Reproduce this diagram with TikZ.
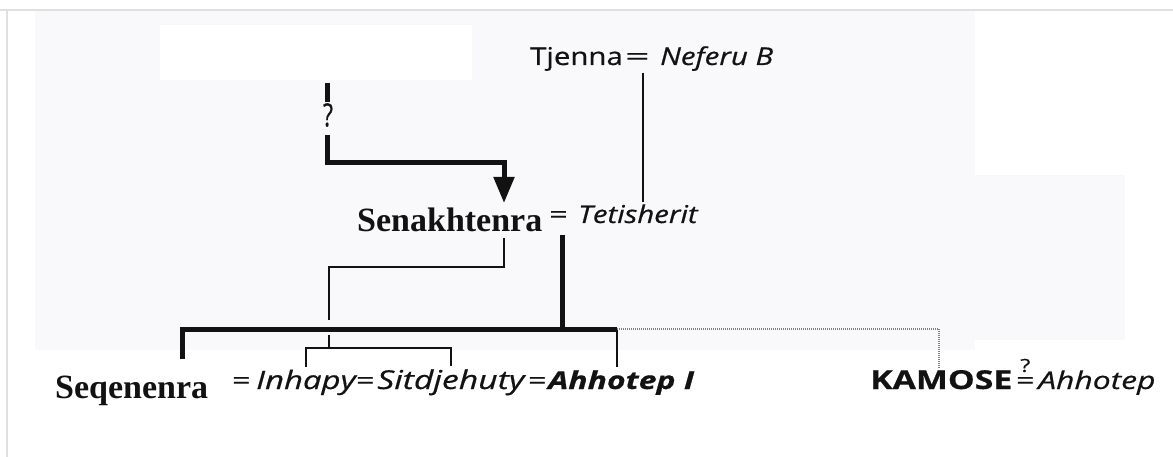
\documentclass[tikz,border=0pt]{standalone}
\usepackage{fontspec}
\setmainfont{Liberation Serif}
\newfontfamily\gsA[FakeStretch=1.2,FakeBold=0.6]{Open Sans}
\newfontfamily\gsB[FakeStretch=1.3,FakeBold=0.6]{Open Sans}
\newfontfamily\gsN[FakeBold=0.6]{Open Sans}
\usetikzlibrary{arrows.meta,calc}
\definecolor{bggray}{RGB}{249,249,251}
\definecolor{bordergray}{RGB}{224,224,226}
\definecolor{ink}{RGB}{18,18,18}
\begin{document}
\begin{tikzpicture}[x=1pt,y=-1pt,
  txt/.style={inner sep=0pt, anchor=base west, text=ink},
  serifname/.style={txt, font=\fontsize{34}{40}\selectfont\bfseries},
  topname/.style={txt, font=\gsA\fontsize{24.5}{30}\selectfont},
  topit/.style={txt, font=\gsA\fontsize{24.5}{30}\selectfont\itshape},
  botname/.style={txt, font=\gsB\fontsize{24.5}{30}\selectfont},
  botit/.style={txt, font=\gsB\fontsize{24.5}{30}\selectfont\itshape},
  botb/.style={txt, font=\gsB\fontsize{26}{30}\selectfont\bfseries},
  botbi/.style={txt, font=\gsB\fontsize{24.5}{30}\selectfont\bfseries\itshape},
  qmark/.style={inner sep=0pt, text=ink, font=\gsN\fontsize{32}{36}\selectfont},
  thickl/.style={draw=ink, line width=5pt},
  thinl/.style={draw=ink, line width=1.6pt},
  dotl/.style={draw=gray, line width=1.3pt, dash pattern=on 1pt off 1pt}]
\useasboundingbox (0,0) rectangle (1173,457);
% background
\fill[white] (0,0) rectangle (1173,457);
\fill[bggray] (35,11) rectangle (975,350);
\fill[bggray] (975,175) rectangle (1125,340);
\fill[white] (160,25) rectangle (472,80);
\draw[bordergray, line width=1.5pt] (0,10) -- (1173,10);
\draw[bordergray, line width=1.5pt] (7,10) -- (7,457);

% names
\node[topname] (tjenna) at (530,65) {Tjenna};
\node[topname] (eq0) at (625,65) {\scalebox{1.45}[1]{=}};
\node[topit] (neferu) at (660,65) {Neferu B};
\node[serifname] (sen) at (357,232) {Senakhtenra};
\node[topname] (eq1) at (549,223) {\scalebox{1.1}[1]{=}};
\node[topit] (teti) at (578,223) {Tetisherit};
\node[serifname] (seq) at (55,398) {Seqenenra};
\node[botname] (eq2) at (232,389) {=};
\node[botit, font=\gsB\fontsize{25.3}{30}\selectfont\itshape] (inhapy) at (256,389) {Inhapy};
\node[botname] (eq3) at (356,389) {=};
\node[botit, font=\gsB\fontsize{26}{30}\selectfont\itshape] (sitd) at (377,389) {Sitdjehuty};
\node[botname] (eq4) at (528,389) {=};
\node[botbi, font=\gsB\fontsize{24.6}{30}\selectfont\bfseries\itshape] (ahh1) at (548,389) {Ahhotep I};
\node[botb] (kamose) at (870,389) {KAMOSE};
\node[botname] (eq5) at (1016,389) {\ooalign{=\cr\hidewidth\raisebox{0.7em}{\fontsize{18}{20}\selectfont ?}\hidewidth\cr}};
\node[botit] (ahh2) at (1038,389) {Ahhotep};
\node[qmark] (q1) at (328,115) {\scalebox{0.72}[1]{?}};

% coordinates
\coordinate (t0) at (327,83);
\coordinate (t1) at (327,102);
\coordinate (t2) at (327,135);
\coordinate (elbow) at (504,163);
\coordinate (senin) at (504,203);
\coordinate (senout) at (504,238);
\coordinate (j1) at (329,267);
\coordinate (gap1) at (329,320);
\coordinate (gap2) at (329,335);
\coordinate (brk) at (329,348);
\coordinate (coupleout) at (562,235);
\coordinate (bar) at (562,329);
\coordinate (barL) at (182,329);
\coordinate (barR) at (617,329);
\coordinate (dotR) at (939,329);
\coordinate (tjout) at (643,73);

% thick line with arrow into Senakhtenra
\draw[thickl] (t0) -- (t1);
\draw[thickl, -{Triangle[length=26pt,width=20pt]}] (t2) |- (elbow) -- (senin);

% Tjenna = Neferu B -> Tetisherit
\draw[thinl] (tjout) -- ($(tjout |- teti.north)+(0,-2)$);

% Senakhtenra -> Inhapy/Sitdjehuty
\draw[thinl] (senout) |- (j1) -- (gap1);
\draw[thinl] (gap2) -- (brk);
\draw[thinl] ($(inhapy.north)+(0,-3)$) |- (brk) -| ($(sitd.north)+(0,-3)$);

% Senakhtenra = Tetisherit -> children
\draw[thickl] (coupleout) -- (bar);
\draw[thickl] ($(seq.north -| barL)+(0,-16)$) |- (barR);
\draw[thinl] (barR) -- ($(ahh1.north -| barR)+(0,-3)$);
\draw[dotl] (barR) -- (dotR) -- ($(dotR |- kamose.north)+(0,-1)$);
\end{tikzpicture}
\end{document}
